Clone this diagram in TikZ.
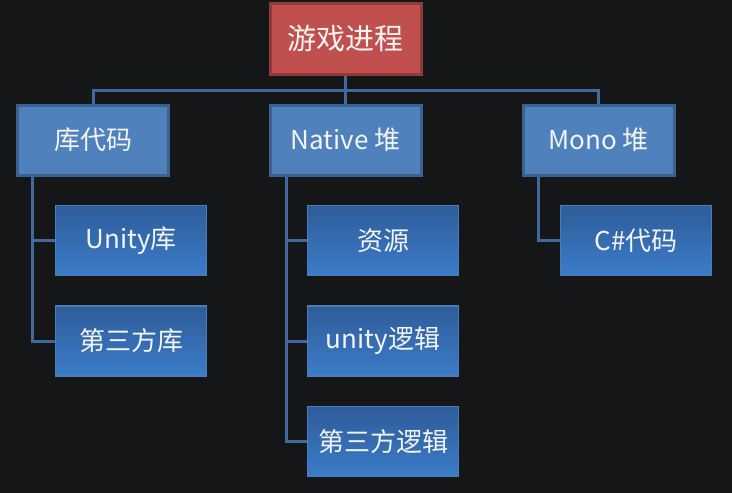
\documentclass[tikz,border=0pt]{standalone}
\usepackage{fontspec}
\setmainfont{Noto Sans CJK SC}
\usetikzlibrary{backgrounds}
\begin{document}
\begin{tikzpicture}[x=1pt,y=-1pt,
  conn/.style={draw=connc,line width=3pt},
  rootbox/.style={fill=rootfill,draw=rootdraw,line width=3pt,minimum width=151pt,minimum height=71pt,inner sep=0pt,text=txt,font=\fontsize{29}{34}\selectfont},
  lvlbox/.style={fill=lvlfill,draw=lvldraw,line width=3pt,minimum width=151pt,minimum height=70pt,inner sep=0pt,text=txt,font=\fontsize{26}{31}\selectfont},
  leafbox/.style={top color=leaftop,bottom color=leafbot,draw=leafdraw,line width=1.2pt,minimum width=151pt,minimum height=70pt,inner sep=0pt,text=txt,font=\fontsize{26}{31}\selectfont}]
\definecolor{bg}{HTML}{151618}
\definecolor{connc}{HTML}{41699E}
\definecolor{rootfill}{HTML}{C0504D}
\definecolor{rootdraw}{HTML}{8E3B39}
\definecolor{lvlfill}{HTML}{4F81BD}
\definecolor{lvldraw}{HTML}{3A6190}
\definecolor{leaftop}{HTML}{2E5C99}
\definecolor{leafbot}{HTML}{3B7CC9}
\definecolor{leafdraw}{HTML}{4A7DBA}
\definecolor{txt}{HTML}{F4F4F4}
\begin{scope}[on background layer]
\fill[bg] (0,0) rectangle (732,493);
\end{scope}
\useasboundingbox (0,0) rectangle (732,493);
\node[rootbox] (root) at (345.5,39) {游戏进程};
\node[lvlbox] (lib) at (93,140) {库代码};
\node[lvlbox] (native) at (345.5,140) {Native 堆};
\node[lvlbox] (mono) at (598.5,140) {Mono 堆};
\node[leafbox] (unitylib) at (131,240.5) {Unity库};
\node[leafbox] (thirdlib) at (131,341) {第三方库};
\node[leafbox] (res) at (383,240.5) {资源};
\node[leafbox] (ulogic) at (383,341) {unity逻辑};
\node[leafbox] (tlogic) at (383,441.5) {第三方逻辑};
\node[leafbox] (csharp) at (636,240.5) {C\#代码};
\begin{scope}[on background layer]
\draw[conn] (root.south) -- ++(0,14) coordinate (bus) -| (lib.north);
\draw[conn] (bus) -| (mono.north);
\draw[conn] (root.south) -- (native.north);
\draw[conn] ([xshift=16pt]lib.south west) |- (unitylib.west);
\draw[conn] ([xshift=16pt]lib.south west) |- (thirdlib.west);
\draw[conn] ([xshift=18pt]native.south west) |- (res.west);
\draw[conn] ([xshift=18pt]native.south west) |- (ulogic.west);
\draw[conn] ([xshift=18pt]native.south west) |- (tlogic.west);
\draw[conn] ([xshift=17pt]mono.south west) |- (csharp.west);
\end{scope}
\end{tikzpicture}
\end{document}
